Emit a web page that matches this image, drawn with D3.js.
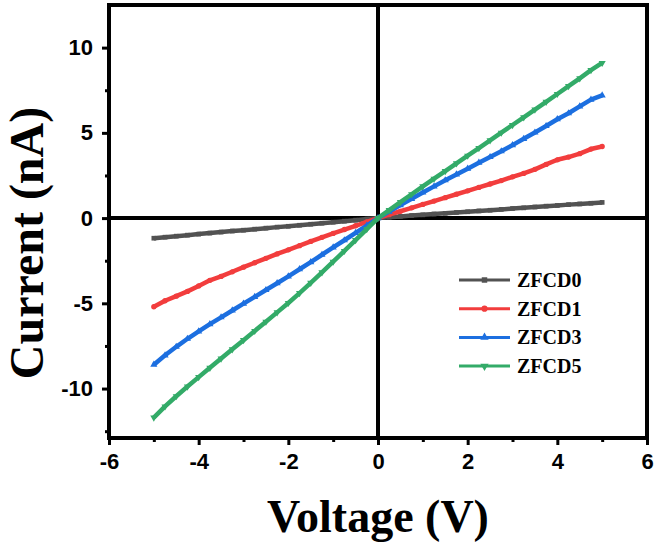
<!DOCTYPE html>
<html lang="en">
<head>
<meta charset="UTF-8">
<script src="https://d3js.org/d3.v7.min.js"></script>
<title>I-V curves</title>
<style>
  body { margin: 0; background: #fff; }
  svg { display: block; }
  .tick text { font-family: "Liberation Sans", Arial, sans-serif; font-weight: bold; }
</style>
</head>
<body>
<svg width="657" height="542"></svg>
<script>
// voltage steps (V)
const voltage = d3.range(41).map(i => -5 + i * 0.25);

// current values (nA)
const zfcd0 = [-1.18,-1.12,-1.06,-1.00,-0.94,-0.88,-0.82,-0.76,-0.71,-0.65,-0.59,-0.53,-0.48,-0.42,-0.36,-0.30,-0.24,-0.18,-0.12,-0.06,
  0,0.05,0.10,0.15,0.19,0.24,0.28,0.33,0.37,0.42,0.46,0.51,0.56,0.60,0.65,0.70,0.74,0.79,0.83,0.87,0.92];
const zfcd1 = [-5.20,-4.85,-4.58,-4.30,-3.98,-3.65,-3.42,-3.15,-2.88,-2.62,-2.36,-2.10,-1.86,-1.62,-1.37,-1.13,-0.90,-0.67,-0.45,-0.22,
  0,0.20,0.40,0.60,0.80,1.00,1.20,1.40,1.60,1.80,2.00,2.20,2.42,2.62,2.86,3.15,3.42,3.58,3.78,4.05,4.20];
const zfcd3 = [-8.60,-8.05,-7.55,-7.08,-6.65,-6.22,-5.82,-5.42,-5.02,-4.62,-4.22,-3.82,-3.42,-3.00,-2.58,-2.15,-1.72,-1.30,-0.87,-0.44,
  0,0.38,0.76,1.13,1.50,1.86,2.22,2.56,2.90,3.25,3.58,3.92,4.28,4.65,5.02,5.40,5.80,6.15,6.55,6.95,7.20];
const zfcd5 = [-11.70,-11.05,-10.45,-9.88,-9.33,-8.78,-8.24,-7.70,-7.16,-6.62,-6.08,-5.53,-4.98,-4.40,-3.80,-3.18,-2.56,-1.93,-1.29,-0.65,
  0,0.47,0.94,1.40,1.86,2.31,2.76,3.21,3.66,4.11,4.56,5.01,5.46,5.91,6.36,6.82,7.28,7.74,8.20,8.68,9.10];

const seriesNames = ["ZFCD0", "ZFCD1", "ZFCD3", "ZFCD5"];
const seriesValues = [zfcd0, zfcd1, zfcd3, zfcd5];
const seriesColors = ["#525252", "#f23d3d", "#1c6fe0", "#33ab68"];
const seriesSymbols = [d3.symbolSquare, d3.symbolCircle, d3.symbolTriangle, d3.symbolTriangle];

const xTicks = [-6, -4, -2, 0, 2, 4, 6];
const yTicks = [-10, -5, 0, 5, 10];

const svg = d3.select("svg");
const margin = {top: 5, right: 10, bottom: 104, left: 109};
const width = 657, height = 542;

const x = d3.scaleLinear().domain([-6, 6]).range([margin.left, width - margin.right]);
const y = d3.scaleLinear().domain([-12.9, 12.5]).range([height - margin.bottom, margin.top]);

const plain = d => String(d);   // hyphen minus like the original

// minor ticks
const xMinor = d3.axisBottom(x).tickValues(d3.range(-5, 6, 2)).tickSize(4).tickFormat("");
const yMinor = d3.axisLeft(y).tickValues([-12.5, -7.5, -2.5, 2.5, 7.5]).tickSize(4).tickFormat("");

svg.append("g").attr("transform", `translate(0,${y.range()[0]})`).call(xMinor)
  .call(g => g.select(".domain").remove())
  .selectAll("line").attr("stroke-width", 3);
svg.append("g").attr("transform", `translate(${margin.left},0)`).call(yMinor)
  .call(g => g.select(".domain").remove())
  .selectAll("line").attr("stroke-width", 3);

// major ticks
const xAxis = svg.append("g").attr("transform", `translate(0,${y.range()[0]})`)
  .call(d3.axisBottom(x).tickValues(xTicks).tickFormat(plain).tickSize(7).tickPadding(8));
xAxis.select(".domain").remove();
xAxis.selectAll("line").attr("stroke-width", 3);
xAxis.selectAll("text").attr("font-size", 22).attr("fill", "#000");

const yAxis = svg.append("g").attr("transform", `translate(${margin.left},0)`)
  .call(d3.axisLeft(y).tickValues(yTicks).tickFormat(plain).tickSize(7).tickPadding(9));
yAxis.select(".domain").remove();
yAxis.selectAll("line").attr("stroke-width", 3);
yAxis.selectAll("text").attr("font-size", 22).attr("fill", "#000");

// frame
svg.append("rect")
  .attr("x", x(-6)).attr("y", y(12.5))
  .attr("width", x(6) - x(-6)).attr("height", y(-12.9) - y(12.5))
  .attr("fill", "none").attr("stroke", "#000").attr("stroke-width", 4);

// zero lines
svg.append("line").attr("x1", x(0)).attr("x2", x(0)).attr("y1", y(12.5)).attr("y2", y(-12.9))
  .attr("stroke", "#000").attr("stroke-width", 4);
svg.append("line").attr("x1", x(-6)).attr("x2", x(6)).attr("y1", y(0)).attr("y2", y(0))
  .attr("stroke", "#000").attr("stroke-width", 4);

// series
const line = d3.line().x((d, i) => x(voltage[i])).y(d => y(d));
seriesValues.forEach((vals, k) => {
  svg.append("path").datum(vals)
    .attr("d", line).attr("fill", "none")
    .attr("stroke", seriesColors[k]).attr("stroke-width", 4.5)
    .attr("stroke-linejoin", "round");
  svg.append("g").selectAll("path").data(vals).join("path")
    .attr("d", d3.symbol().type(seriesSymbols[k]).size(22))
    .attr("transform", (d, i) => `translate(${x(voltage[i])},${y(d)})${k === 3 ? " rotate(180)" : ""}`)
    .attr("fill", seriesColors[k]);
});

// legend
const legend = svg.append("g").attr("transform", "translate(459,280)");
seriesNames.forEach((name, k) => {
  const g = legend.append("g").attr("transform", `translate(0,${k * 28.7})`);
  g.append("line").attr("x1", 0).attr("x2", 51).attr("stroke", seriesColors[k]).attr("stroke-width", 3);
  g.append("path").attr("d", d3.symbol().type(seriesSymbols[k]).size(30))
    .attr("transform", `translate(25.5,0)${k === 3 ? " rotate(180)" : ""}`)
    .attr("fill", seriesColors[k]);
  g.append("text").attr("x", 58).attr("y", 7)
    .attr("font-family", "'Liberation Serif', 'Times New Roman', serif")
    .attr("font-weight", "bold").attr("font-size", 20).text(name);
});

// axis titles
svg.append("text").attr("x", x(0)).attr("y", 532).attr("text-anchor", "middle")
  .attr("font-family", "'Liberation Serif', 'Times New Roman', serif")
  .attr("font-weight", "bold").attr("font-size", 46).text("Voltage (V)");
svg.append("text").attr("transform", "translate(43,243) rotate(-90)").attr("text-anchor", "middle")
  .attr("font-family", "'Liberation Serif', 'Times New Roman', serif")
  .attr("font-weight", "bold").attr("font-size", 48).text("Current (nA)");
</script>
</body>
</html>
